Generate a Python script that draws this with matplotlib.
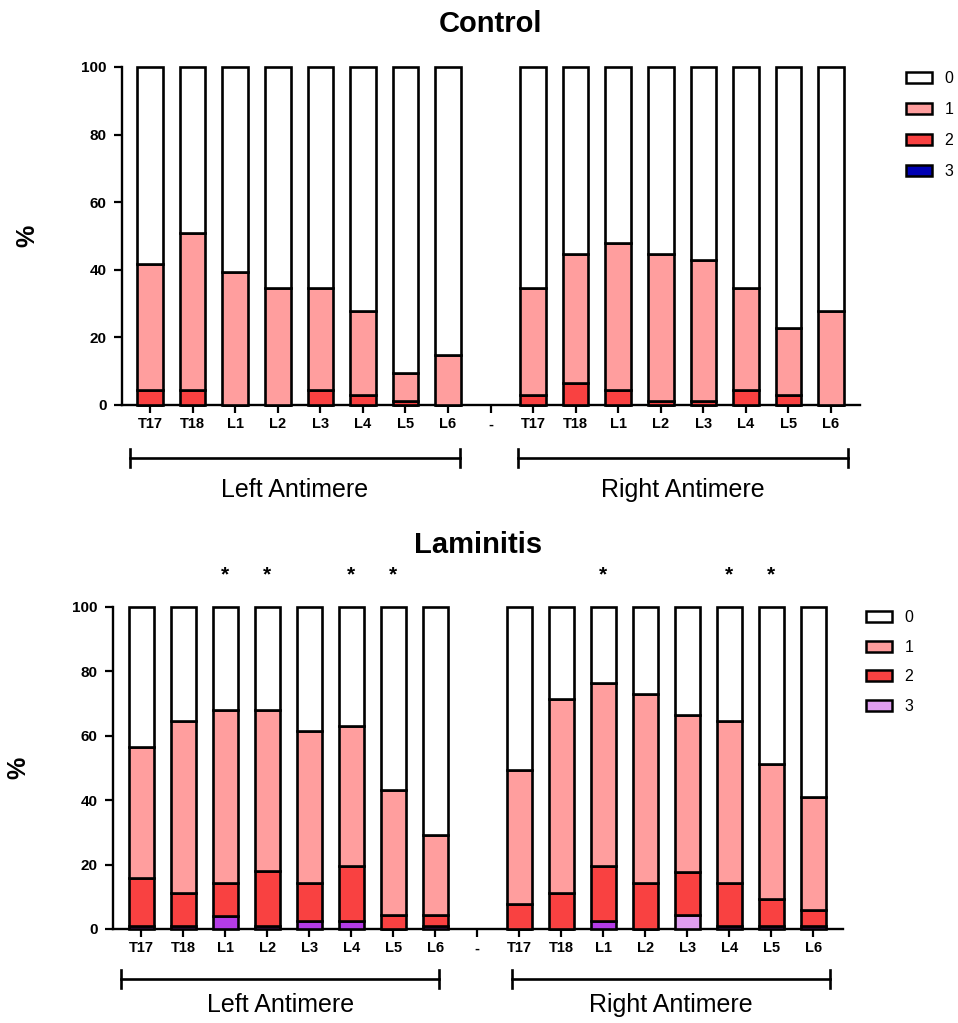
import numpy as np
import matplotlib
matplotlib.use("Agg")
import matplotlib.pyplot as plt
import matplotlib.transforms as mtrans
from matplotlib.patches import Patch

plt.rcParams['font.family'] = ['Liberation Sans', 'DejaVu Sans']

segments = ['T17', 'T18', 'L1', 'L2', 'L3', 'L4', 'L5', 'L6']
tick_labels = segments + ['-'] + segments

# percentages per score (score 0 is the rest up to 100)
ctrl_left_s1 = [37.2, 46.6, 39.4, 34.5, 30.1, 24.9, 8.3, 14.8]
ctrl_left_s2 = [4.4, 4.4, 0, 0, 4.4, 3.0, 1.3, 0]
ctrl_left_s3 = [0, 0, 0, 0, 0, 0, 0, 0]
ctrl_right_s1 = [31.5, 38.2, 43.4, 43.3, 41.6, 30.1, 19.7, 27.9]
ctrl_right_s2 = [3.0, 6.4, 4.4, 1.3, 1.3, 4.4, 3.0, 0]
ctrl_right_s3 = [0, 0, 0, 0, 0, 0, 0, 0]

lam_left_s1 = [40.5, 53.4, 53.6, 50.1, 47.2, 43.6, 38.8, 25.0]
lam_left_s2 = [14.9, 10.3, 10.3, 16.9, 11.8, 16.9, 4.3, 3.3]
lam_left_s3 = [1.0, 1.0, 4.1, 1.0, 2.6, 2.6, 0, 1.0]
lam_right_s1 = [41.8, 60.2, 56.9, 58.6, 48.7, 50.3, 42.0, 35.1]
lam_right_s2 = [7.7, 11.1, 16.9, 14.4, 13.4, 13.4, 8.2, 4.9]
lam_right_s3 = [0, 0, 2.6, 0, 4.3, 1.0, 1.0, 1.0]

# significance marks (Laminitis), by segment
lam_left_sig = ['L1', 'L2', 'L4', 'L5']
lam_right_sig = ['L1', 'L4', 'L5']

c1 = '#FF9E9E'
c2 = '#F94141'
ctrl_c3 = '#0000B4'
lam_c3 = '#E09EF0'
lam_c3_bars = ['#B43CE6'] * 8 + ['#B43CE6'] * 4 + ['#E09EF0'] + ['#B43CE6'] * 3

fig = plt.figure(figsize=(9.58, 10.23), dpi=100)
W, H = 958, 1023


def px_axes(l, t, r, b):
    return fig.add_axes([l / W, 1 - b / H, (r - l) / W, (b - t) / H])


def draw_panel(ax, s1, s2, s3, c3, c3_bars, title, title_pad, xlim, leg_xy,
               leg_space, brackets, bracket_y, label_y):
    s1 = np.array(s1); s2 = np.array(s2); s3 = np.array(s3)
    s0 = 100 - s1 - s2 - s3
    x = np.r_[np.arange(8), np.arange(9, 17)]
    kw = dict(width=0.6, edgecolor='black', linewidth=1.9, clip_on=False, zorder=3)
    ax.bar(x, s3, color=c3_bars, **kw)
    ax.bar(x, s2, bottom=s3, color=c2, **kw)
    ax.bar(x, s1, bottom=s3 + s2, color=c1, **kw)
    ax.bar(x, s0, bottom=s3 + s2 + s1, color='white', **kw)

    ax.set_xlim(*xlim)
    ax.set_ylim(0, 100)
    ax.set_yticks(np.arange(0, 101, 20))
    ax.set_xticks(np.arange(17))
    ax.set_xticklabels(tick_labels, fontweight='bold', fontsize=10.5)
    for lab in ax.get_yticklabels():
        lab.set_fontweight('bold')
        lab.set_fontsize(11)
    ax.tick_params(direction='out', length=6, width=1.6, pad=3)
    ax.tick_params(axis='y', pad=5)
    for side in ['top', 'right']:
        ax.spines[side].set_visible(False)
    for side in ['left', 'bottom']:
        ax.spines[side].set_linewidth(1.7)
    ax.set_ylabel('%', fontsize=18, fontweight='bold', labelpad=30)
    ax.set_title(title, fontsize=21, fontweight='bold', pad=title_pad)

    handles = [Patch(facecolor=c, edgecolor='black', linewidth=1.8)
               for c in ['white', c1, c2, c3]]
    fig.legend(handles, ['0', '1', '2', '3'], loc='upper left',
               bbox_to_anchor=(leg_xy[0] / W, 1 - leg_xy[1] / H),
               frameon=False, fontsize=11.5, handlelength=1.6, handleheight=0.7,
               handletextpad=0.8, labelspacing=leg_space, borderpad=0,
               borderaxespad=0)

    tr = mtrans.blended_transform_factory(ax.transData, fig.transFigure)
    yb = 1 - bracket_y / H
    cap = 9 / H
    for (x0, x1), name in zip(brackets, ['Left Antimere', 'Right Antimere']):
        ax.plot([x0, x1], [yb, yb], color='black', lw=1.9, transform=tr, clip_on=False)
        for xe in (x0, x1):
            ax.plot([xe, xe], [yb - cap, yb + cap], color='black', lw=1.9,
                    transform=tr, clip_on=False)
        ax.text((x0 + x1) / 2, 1 - label_y / H, name, transform=tr,
                ha='center', va='center', fontsize=18)
    return x


ax1 = px_axes(122, 67, 860, 405)
draw_panel(ax1, ctrl_left_s1 + ctrl_right_s1, ctrl_left_s2 + ctrl_right_s2,
           ctrl_left_s3 + ctrl_right_s3, ctrl_c3, ctrl_c3, 'Control', 25,
           (-0.66, 16.68), (906, 71), 1.0,
           [(-0.47, 7.28), (8.65, 16.4)], 458, 490)

ax2 = px_axes(113, 607, 843, 929)
draw_panel(ax2, lam_left_s1 + lam_right_s1, lam_left_s2 + lam_right_s2,
           lam_left_s3 + lam_right_s3, lam_c3, lam_c3_bars, 'Laminitis', 39,
           (-0.67, 16.71), (866, 610), 0.92,
           [(-0.47, 7.1), (8.82, 16.39)], 979, 1005)

for sig, off in [(lam_left_sig, 0), (lam_right_sig, 9)]:
    for s in sig:
        ax2.text(segments.index(s) + off, 110, '*', ha='center', va='center',
                 fontsize=15, fontweight='bold', clip_on=False)

fig.savefig('out.png', dpi=100)
